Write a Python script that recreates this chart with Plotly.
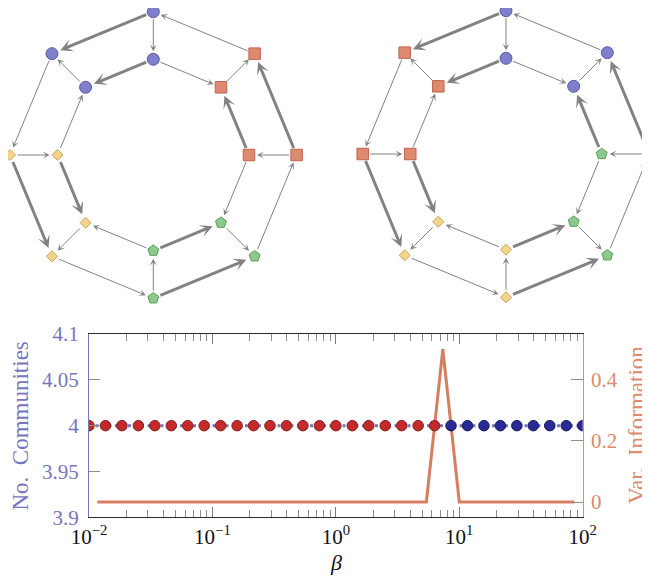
import math
import plotly.graph_objects as go

# The page places the figure 8 px in from the window's top-left corner,
# so all positions below are given in window pixels and shifted by OFF.
WIN_W, WIN_H = 650, 580
OFF = 8
W, H = WIN_W - OFF, WIN_H - OFF

# ---------------- data ----------------
beta = [0.01, 0.01359, 0.01848, 0.02512, 0.03415, 0.04642, 0.0631, 0.08577,
        0.1166, 0.1585, 0.2154, 0.2929, 0.3981, 0.5412, 0.7356, 1.0,
        1.359, 1.848, 2.512, 3.415, 4.642, 6.31, 8.577, 11.66,
        15.85, 21.54, 29.29, 39.81, 54.12, 73.56, 100.0]
n_communities = [4] * 31
partition = [0] * 22 + [1] * 9          # 0 = partition A (red), 1 = partition B (blue)
var_info = [0] * 21 + [0.5] + [0] * 8    # between consecutive beta values

x_tickvals = [0.01, 0.1, 1, 10, 100]
x_ticktext = ["10<sup>\u22122</sup>", "10<sup>\u22121</sup>", "10<sup>0</sup>",
              "10<sup>1</sup>", "10<sup>2</sup>"]
yl_tickvals = [3.9, 3.95, 4, 4.05, 4.1]
yl_ticktext = ["3.9", "3.95", "4", "4.05", "4.1"]
yr_tickvals = [0, 0.2, 0.4]
yr_ticktext = ["0", "0.2", "0.4"]

# network: 16 nodes, outer ring (ring 0) and inner ring (ring 1), 8 slots each
node_ring = [0] * 8 + [1] * 8
node_slot = list(range(8)) * 2
# (source, target, weight)
edges = [
    (0, 1, 2), (2, 3, 2), (4, 5, 2), (6, 7, 2),
    (8, 9, 2), (10, 11, 2), (12, 13, 2), (14, 15, 2),
    (7, 0, 1), (1, 2, 1), (3, 4, 1), (5, 6, 1),
    (8, 15, 1), (10, 9, 1), (12, 11, 1), (14, 13, 1),
    (0, 8, 1), (2, 10, 1), (4, 12, 1), (6, 14, 1),
    (9, 1, 1), (11, 3, 1), (13, 5, 1), (15, 7, 1),
]
comm_left = [0, 0, 1, 1, 2, 2, 3, 3] * 2
comm_right = [0, 3, 3, 1, 1, 2, 2, 0] * 2

# ---------------- styles ----------------
FONT = "Liberation Serif"
C_LEFT = "#7676bd"
C_RIGHT = "#dc8a70"
C_VI = "#d77e62"
comm_style = {
    0: dict(symbol="circle", size=12, color="#7f7fcc", line="#5a5aa8"),
    1: dict(symbol="diamond", size=8.5, color="#f2d48c", line="#c9a655"),
    2: dict(symbol="pentagon", size=11.5, color="#8cc98c", line="#5c9f5c"),
    3: dict(symbol="square", size=11.5, color="#dd8a70", line="#bf654b"),
}
part_fill = ["#c42a2a", "#2a2a94"]
part_line = ["#851a1a", "#15155c"]


def px_x(x):
    return (x - OFF) / W


def px_y(y):
    return 1 - (y - OFF) / H


fig = go.Figure()

# ---------------- network panels ----------------
R_PX = 143.3
INNER = 0.668
panels = [
    dict(cx=153.3, cy=155.0, dom=(OFF, 325), comm=comm_left, xa="x3", ya="y3"),
    dict(cx=506.0, cy=154.0, dom=(325, WIN_W), comm=comm_right, xa="x4", ya="y4"),
]
TOP_PX = (OFF, 312)

ux, uy = [], []
for rg, sl in zip(node_ring, node_slot):
    rad = 1.0 if rg == 0 else INNER
    a = math.radians(90 + 45 * sl)
    ux.append(rad * math.cos(a))
    uy.append(rad * math.sin(a))

annotations = []
for p in panels:
    for c, st in comm_style.items():
        idx = [i for i in range(16) if p["comm"][i] == c]
        fig.add_trace(go.Scatter(
            x=[ux[i] for i in idx], y=[uy[i] for i in idx], mode="markers",
            xaxis=p["xa"], yaxis=p["ya"], cliponaxis=False, showlegend=False,
            hoverinfo="skip",
            marker=dict(symbol=st["symbol"], size=st["size"], color=st["color"],
                        line=dict(color=st["line"], width=1))))
    for s, t, w in edges:
        thick = w == 2
        annotations.append(dict(
            x=ux[t], y=uy[t], ax=ux[s], ay=uy[s],
            xref=p["xa"], yref=p["ya"], axref=p["xa"], ayref=p["ya"],
            text="", showarrow=True, arrowhead=3,
            arrowwidth=3 if thick else 1,
            arrowsize=0.7 if thick else 1.15,
            arrowcolor="#828282",
            standoff=9 if thick else 8, startstandoff=6))

# ---------------- main chart ----------------
beta_mid = [math.sqrt(beta[i] * beta[i + 1]) for i in range(len(beta) - 1)]

fig.add_trace(go.Scatter(
    x=beta_mid, y=var_info, mode="lines", yaxis="y", xaxis="x",
    line=dict(color=C_VI, width=3), showlegend=False))
fig.add_trace(go.Scatter(
    x=beta, y=n_communities, mode="lines", yaxis="y2", xaxis="x",
    line=dict(color=C_LEFT, width=3, dash="3px,3.5px"), showlegend=False))
fig.add_trace(go.Scatter(
    x=beta, y=n_communities, mode="markers", yaxis="y2", xaxis="x",
    marker=dict(size=10.5, color=[part_fill[k] for k in partition],
                line=dict(color=[part_line[k] for k in partition], width=1)),
    showlegend=False))

PX0, PX1 = 89.0, 582.7
PY0, PY1 = 334.0, 517.3
xdom = [px_x(PX0), px_x(PX1)]
ydom = [px_y(PY1), px_y(PY0)]

layout = dict(
    width=W, height=H,
    margin=dict(l=0, r=0, t=0, b=0, autoexpand=False),
    paper_bgcolor="white", plot_bgcolor="rgba(0,0,0,0)",
    font=dict(family=FONT, size=21, color="#111"),
    xaxis=dict(
        type="log", domain=xdom, range=[-2, 2], anchor="y",
        tickvals=x_tickvals, ticktext=x_ticktext,
        ticks="inside", ticklen=10, tickwidth=1, tickcolor="#7a7a7a",
        minor=dict(dtick="D1", ticks="inside", ticklen=7, tickwidth=1,
                   tickcolor="#8c8c8c", showgrid=False),
        showline=True, linecolor="#2a2a2a", linewidth=1.3, mirror="ticks",
        showgrid=False, zeroline=False,
        tickfont=dict(family=FONT, size=21, color="#111"),
    ),
    yaxis=dict(
        domain=ydom, range=[-0.05, 0.55], side="right", anchor="x",
        tickvals=yr_tickvals, ticktext=yr_ticktext,
        ticks="inside", ticklen=12, tickwidth=1, tickcolor="#8c8c8c",
        showline=True, linecolor=C_RIGHT, linewidth=1.2,
        showgrid=False, zeroline=False,
        tickfont=dict(family=FONT, size=21, color=C_RIGHT),
        ticklabelstandoff=3,
    ),
    yaxis2=dict(
        domain=ydom, range=[3.9, 4.1], side="left", overlaying="y", anchor="x",
        tickvals=yl_tickvals, ticktext=yl_ticktext,
        ticks="inside", ticklen=11, tickwidth=1, tickcolor="#8c8c8c",
        showline=True, linecolor=C_LEFT, linewidth=1.2,
        showgrid=False, zeroline=False,
        tickfont=dict(family=FONT, size=21, color=C_LEFT),
        ticklabelstandoff=5,
    ),
    annotations=annotations,
    showlegend=False,
)

for p in panels:
    d0, d1 = p["dom"]
    t0, t1 = TOP_PX
    xr = [(d0 - p["cx"]) / R_PX, (d1 - p["cx"]) / R_PX]
    yr = [-(t1 - p["cy"]) / R_PX, (p["cy"] - t0) / R_PX]
    axx = "xaxis" + p["xa"][1:]
    axy = "yaxis" + p["ya"][1:]
    layout[axx] = dict(domain=[px_x(d0), px_x(d1)], range=xr, anchor=p["ya"],
                       visible=False, fixedrange=True)
    layout[axy] = dict(domain=[px_y(t1), px_y(t0)], range=yr, anchor=p["xa"],
                       visible=False, fixedrange=True)

fig.update_layout(**layout)

# axis titles
fig.add_annotation(text="No.  Communities", x=px_x(19.5), y=px_y(426), xref="paper",
                   yref="paper", xanchor="center", yanchor="middle",
                   showarrow=False, textangle=-90,
                   font=dict(family=FONT, size=23, color=C_LEFT))
fig.add_annotation(text="Var.  Information", x=px_x(636), y=px_y(425), xref="paper",
                   yref="paper", xanchor="center", yanchor="middle",
                   showarrow=False, textangle=-90,
                   font=dict(family=FONT, size=23, color=C_RIGHT))
fig.add_annotation(text="<i>\u03b2</i>", x=px_x(336), y=px_y(562), xref="paper",
                   yref="paper", xanchor="center", yanchor="middle",
                   showarrow=False,
                   font=dict(family=FONT, size=22, color="#111"))

fig.write_html("out.html")
